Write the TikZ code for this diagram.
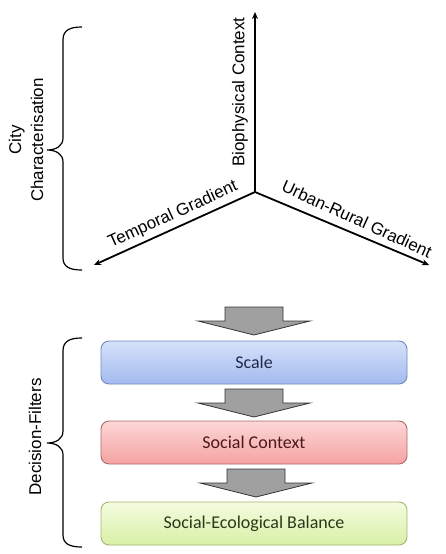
\documentclass[tikz,border=0pt]{standalone}
\usepackage{fontspec}
\setmainfont{Liberation Sans}
\newfontfamily\boxfont{Carlito}
\usetikzlibrary{arrows.meta}
\definecolor{scaletop}{HTML}{D6E2FA}
\definecolor{scalebot}{HTML}{A2BAF0}
\definecolor{scaleline}{HTML}{7088B8}
\definecolor{scaletext}{HTML}{1F2A4A}
\definecolor{soctop}{HTML}{FCD6D6}
\definecolor{socbot}{HTML}{F6A2A2}
\definecolor{socline}{HTML}{A86A6A}
\definecolor{soctext}{HTML}{4A1A1A}
\definecolor{baltop}{HTML}{F4FCE0}
\definecolor{balbot}{HTML}{D8F0A6}
\definecolor{balline}{HTML}{A4B474}
\definecolor{baltext}{HTML}{2A3A1A}
\definecolor{arrowgray}{HTML}{A0A0A0}
\tikzset{
  axisline/.style={line width=1.8pt,-{Stealth[length=7pt,width=6pt]}},
  axislabel/.style={font=\fontsize{17}{20}\selectfont,inner sep=0pt},
  sidelabel/.style={font=\fontsize{17}{22}\selectfont,inner sep=0pt,rotate=90,align=center},
  bracestyle/.style={line width=1.2pt,black},
  filterbox/.style={rounded corners=8pt,minimum width=306pt,minimum height=43pt,inner sep=0pt,font=\boxfont\fontsize{18}{21}\selectfont,line width=0.9pt},
  bigarrow/.pic={\draw[fill=arrowgray,draw=black!80,line width=0.8pt,line join=miter]
     (-29,0) -- (29,0) -- (29,14) -- (56,14) -- (0,28) -- (-56,14) -- (-29,14) -- cycle;}
}
\begin{document}
\begin{tikzpicture}[x=1pt,y=-1pt]
\useasboundingbox (0,0) rectangle (446,554);
% axes
\coordinate (o) at (255,192);
\coordinate (bio) at (255,12);
\coordinate (temp) at (94,265);
\coordinate (urb) at (429,265);
\draw[axisline] (o) -- (bio);
\draw[axisline] (o) -- (temp);
\draw[axisline] (o) -- (urb);
\node[axislabel,rotate=90] (biolab) at (240,92) {Biophysical Context};
\node[axislabel,rotate=24.5] (templab) at (173,215) {Temporal Gradient};
\node[axislabel,rotate=-24.5] (urblab) at (357,219) {Urban-Rural Gradient};
% top brace
\draw[bracestyle] (82,27) .. controls (70,27) and (63,30) .. (63,40) -- (63,138)
  .. controls (63,146) and (56,150) .. (47,150)
  .. controls (56,150) and (63,154) .. (63,162) -- (63,258)
  .. controls (63,267) and (70,270) .. (82,270);
\node[sidelabel] (city) at (26,140) {City\\Characterisation};
% filters
\node[filterbox,draw=scaleline,top color=scaletop,bottom color=scalebot,text=scaletext] (scale) at (254,362.5) {Scale};
\node[filterbox,draw=socline,top color=soctop,bottom color=socbot,text=soctext] (social) at (254,442.5) {Social Context};
\node[filterbox,draw=balline,top color=baltop,bottom color=balbot,text=baltext] (balance) at (254,523.5) {Social-Ecological Balance};
\pic at (254,307) {bigarrow};
\pic at (254,389) {bigarrow};
\pic at (256,469) {bigarrow};
% bottom brace
\draw[bracestyle] (82,338) .. controls (70,338) and (63,341) .. (63,351) -- (63,431)
  .. controls (63,439) and (56,443) .. (47,443)
  .. controls (56,443) and (63,447) .. (63,455) -- (63,535)
  .. controls (63,544) and (70,547) .. (82,547);
\node[sidelabel] (filters) at (35,437) {Decision-Filters};
\end{tikzpicture}
\end{document}
